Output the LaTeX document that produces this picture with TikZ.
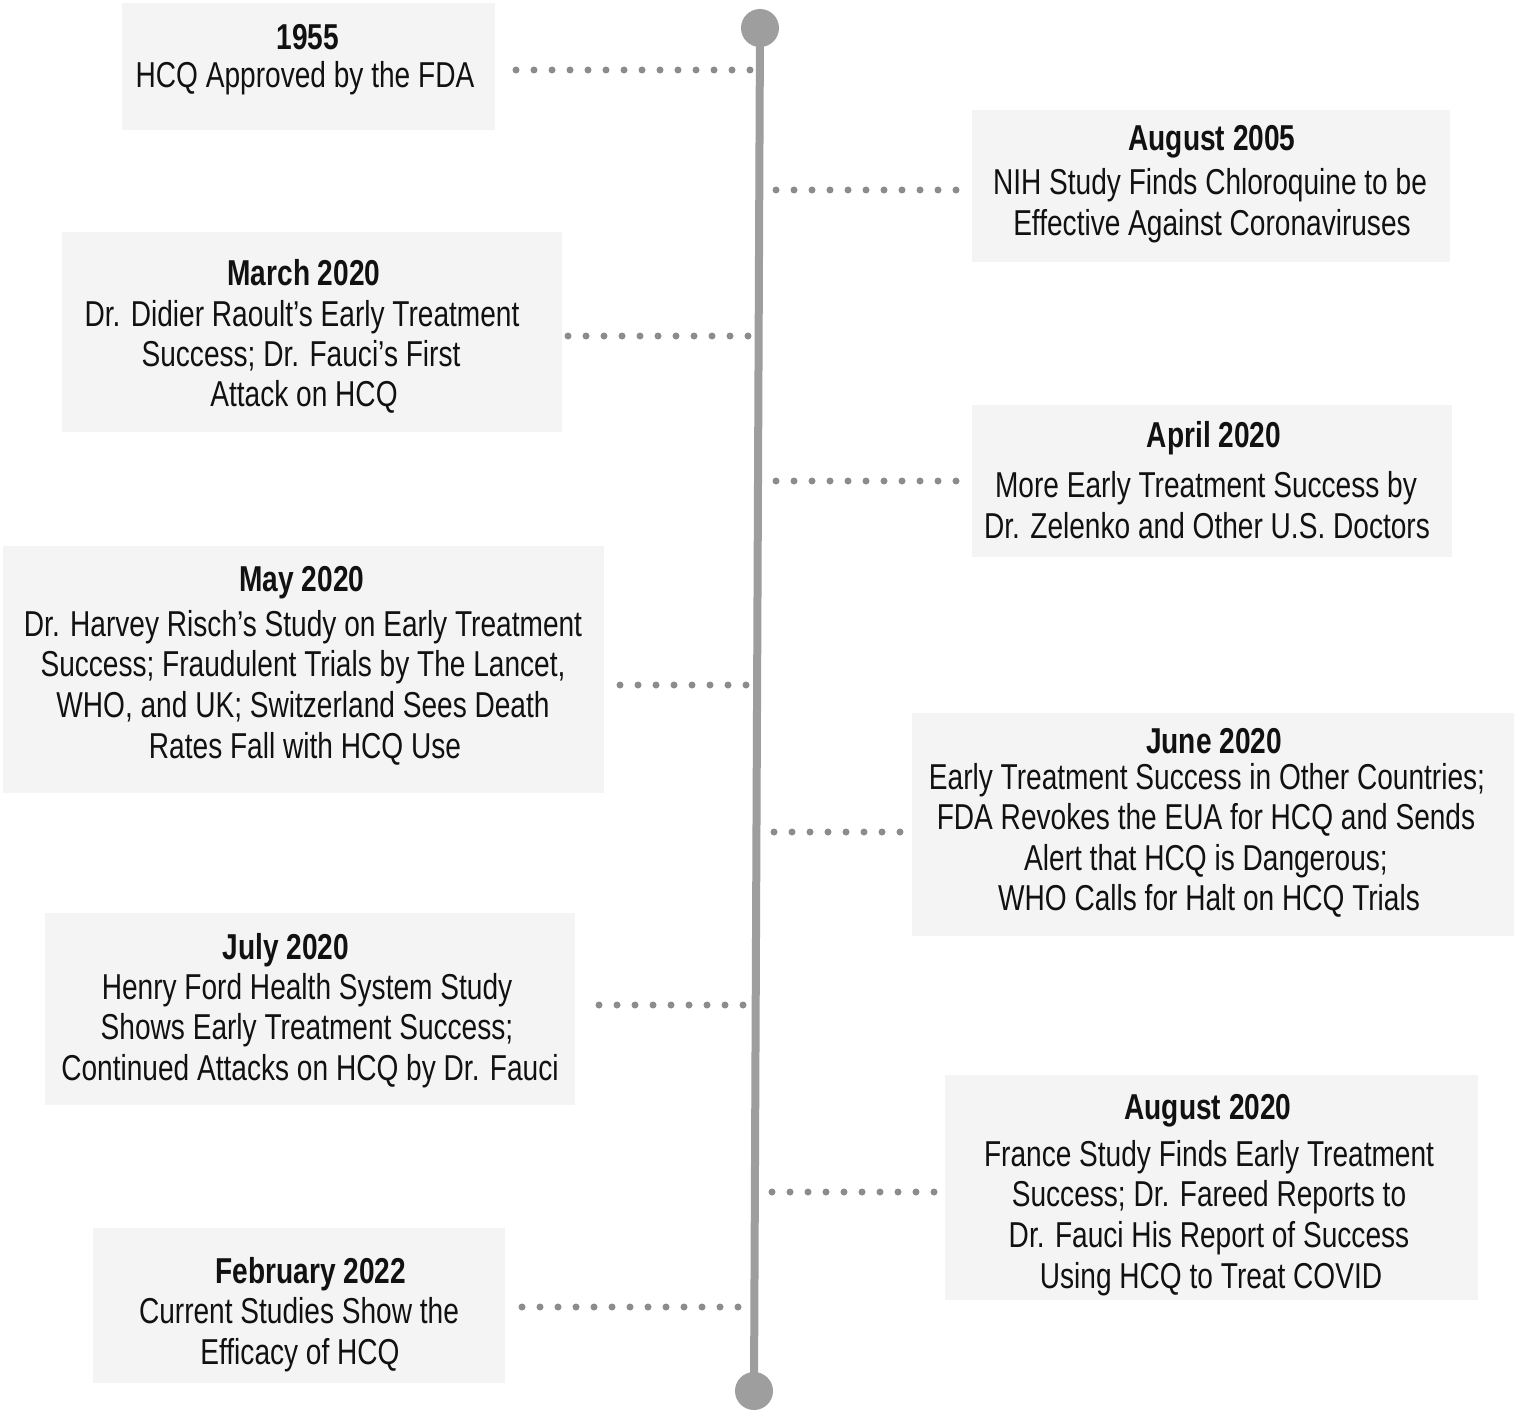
\documentclass[tikz,border=0pt]{standalone}
\usepackage{fontspec}
\setmainfont{Liberation Sans}[FakeStretch=0.78]
\begin{document}
\begin{tikzpicture}[x=1pt,y=-1pt,
  box/.style={fill=boxgray, draw=none, inner sep=0pt},
  ttl/.style={anchor=base, inner sep=0pt, font=\fontsize{36}{40}\selectfont\bfseries, text=ink},
  txt/.style={anchor=base, inner sep=0pt, font=\fontsize{36}{40}\selectfont, text=ink},
  dots/.style={draw=dotgray, line width=7pt, line cap=round, dash pattern=on 0pt off 18pt},
  tl/.style={draw=linegray, line width=8pt},
  knob/.style={circle, fill=linegray, minimum size=38pt, inner sep=0pt}]
\definecolor{boxgray}{HTML}{F4F4F4}
\definecolor{dotgray}{HTML}{8C8C8C}
\definecolor{linegray}{HTML}{9E9E9E}
\definecolor{ink}{HTML}{111111}
\fill[white] (0,0) rectangle (1519,1410);
\useasboundingbox (0,0) rectangle (1519,1410);

% boxes
\node[box, minimum width=373pt, minimum height=127pt] (b1) at (308.5,66.5) {};
\node[box, minimum width=478pt, minimum height=152pt] (b2) at (1211,186) {};
\node[box, minimum width=500pt, minimum height=200pt] (b3) at (312,332) {};
\node[box, minimum width=480pt, minimum height=152pt] (b4) at (1212,481) {};
\node[box, minimum width=601pt, minimum height=247pt] (b5) at (303.5,669.5) {};
\node[box, minimum width=602pt, minimum height=223pt] (b6) at (1213,824.5) {};
\node[box, minimum width=530pt, minimum height=192pt] (b7) at (310,1009) {};
\node[box, minimum width=533pt, minimum height=225pt] (b8) at (1211.5,1187.5) {};
\node[box, minimum width=412pt, minimum height=155pt] (b9) at (299,1305.5) {};

% timeline
\node[knob] (top) at (760,28) {};
\node[knob] (bot) at (754,1391) {};
\draw[tl] (top.center) -- (bot.center);

% connector end points on the timeline
\coordinate (c1) at (750,70);
\coordinate (c2) at (776,190);
\coordinate (c3) at (748,336);
\coordinate (c4) at (776,481);
\coordinate (c5) at (746,685);
\coordinate (c6) at (774,832);
\coordinate (c7) at (743,1005);
\coordinate (c8) at (772,1192);
\coordinate (c9) at (738,1307);

\draw[dots] (c1) -- ([xshift=4pt]b1.east |- c1);
\draw[dots] (c2) -- ([xshift=-2pt]b2.west |- c2);
\draw[dots] (c3) -- ([xshift=4pt]b3.east |- c3);
\draw[dots] (c4) -- ([xshift=-2pt]b4.west |- c4);
\draw[dots] (c5) -- ([xshift=4pt]b5.east |- c5);
\draw[dots] (c6) -- ([xshift=-2pt]b6.west |- c6);
\draw[dots] (c7) -- ([xshift=6pt]b7.east |- c7);
\draw[dots] (c8) -- ([xshift=-8pt]b8.west |- c8);
\draw[dots] (c9) -- ([xshift=4pt]b9.east |- c9);

% texts (baseline = cap centre + 13)
\node[ttl] (t1) at (308,50) {1955};
\node[txt] (t1a) at (305,88) {HCQ Approved by the FDA};

\node[ttl] (t2) at (1212,151) {August 2005};
\node[txt] (t2a) at (1210,195) {NIH Study Finds Chloroquine to be};
\node[txt] (t2b) at (1212,236) {Effective Against Coronaviruses};

\node[ttl] (t3) at (304,285) {March 2020};
\node[txt] (t3a) at (302,326) {Dr. Didier Raoult’s Early Treatment};
\node[txt] (t3b) at (301,366) {Success; Dr. Fauci’s First};
\node[txt] (t3c) at (304,406) {Attack on HCQ};

\node[ttl] (t4) at (1214,447) {April 2020};
\node[txt] (t4a) at (1206,497) {More Early Treatment Success by};
\node[txt] (t4b) at (1207,538) {Dr. Zelenko and Other U.S. Doctors};

\node[ttl] (t5) at (302,591) {May 2020};
\node[txt] (t5a) at (303,636) {Dr. Harvey Risch’s Study on Early Treatment};
\node[txt] (t5b) at (303,676) {Success; Fraudulent Trials by The Lancet,};
\node[txt] (t5c) at (303,717) {WHO, and UK; Switzerland Sees Death};
\node[txt] (t5d) at (305,758) {Rates Fall with HCQ Use};

\node[ttl] (t6) at (1214,753) {June 2020};
\node[txt] (t6a) at (1207,789) {Early Treatment Success in Other Countries;};
\node[txt] (t6b) at (1206,829) {FDA Revokes the EUA for HCQ and Sends};
\node[txt] (t6c) at (1206,870) {Alert that HCQ is Dangerous;};
\node[txt] (t6d) at (1209,910) {WHO Calls for Halt on HCQ Trials};

\node[ttl] (t7) at (286,959) {July 2020};
\node[txt] (t7a) at (307,999) {Henry Ford Health System Study};
\node[txt] (t7b) at (307,1039) {Shows Early Treatment Success;};
\node[txt] (t7c) at (310,1080) {Continued Attacks on HCQ by Dr. Fauci};

\node[ttl] (t8) at (1208,1119) {August 2020};
\node[txt] (t8a) at (1209,1166) {France Study Finds Early Treatment};
\node[txt] (t8b) at (1209,1206) {Success; Dr. Fareed Reports to};
\node[txt] (t8c) at (1209,1247) {Dr. Fauci His Report of Success};
\node[txt] (t8d) at (1211,1288) {Using HCQ to Treat COVID};

\node[ttl] (t9) at (311,1283) {February 2022};
\node[txt] (t9a) at (299,1323) {Current Studies Show the};
\node[txt] (t9b) at (300,1364) {Efficacy of HCQ};
\end{tikzpicture}
\end{document}
